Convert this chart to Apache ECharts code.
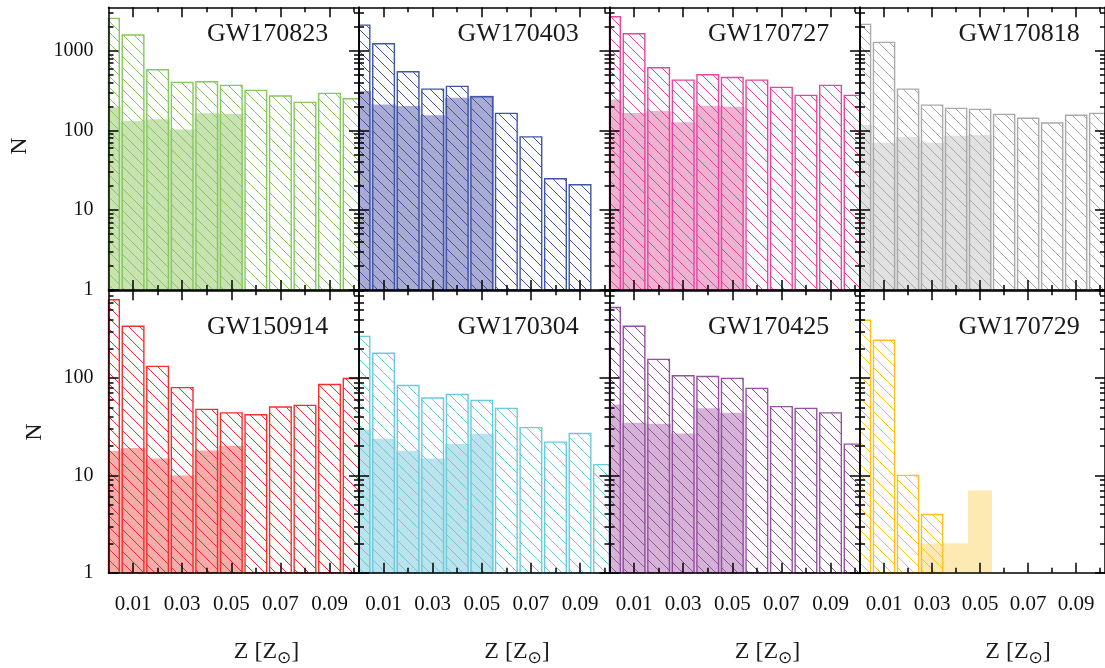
<!DOCTYPE html>
<html><head><meta charset="utf-8">
<script src="https://cdn.jsdelivr.net/npm/echarts@6/dist/echarts.min.js"></script>
<style>html,body{margin:0;padding:0;background:#fff}#c{width:1105px;height:668px}</style>
</head><body><div id="c"></div>
<script>
// ---------- data ----------
const zBins = [0.00, 0.01, 0.02, 0.03, 0.04, 0.05, 0.06, 0.07, 0.08, 0.09, 0.10];

const GW170823_all = [2540, 1570, 576, 401, 408, 367, 318, 270, 225, 292, 250];
const GW170823_sub = [195, 131, 138, 103, 164, 161, null, null, null, null, null];
const GW170403_all = [2090, 1220, 544, 330, 357, 265, 164, 83, 24.8, 20.9, null];
const GW170403_sub = [312, 212, 202, 155, 257, 272, null, null, null, null, null];
const GW170727_all = [2660, 1630, 611, 428, 499, 462, 428, 347, 275, 367, 275];
const GW170727_sub = [245, 165, 175, 127, 204, 198, null, null, null, null, null];
const GW170818_all = [2135, 1270, 330, 208, 189, 184, 159, 142, 124, 155, 164];
const GW170818_sub = [117, 70, 83, 70, 86, 88, null, null, null, null, null];
const GW150914_all = [639, 341, 132, 80, 47.7, 44, 42, 50.5, 52.5, 86, 99];
const GW150914_sub = [17.8, 19.1, 14.9, 10, 18, 20.2, null, null, null, null, null];
const GW170304_all = [269, 180, 84, 62.5, 68, 59, 48.9, 31, 22, 27, 12.9];
const GW170304_sub = [29.7, 23.8, 17.9, 14.9, 21, 26.8, null, null, null, null, null];
const GW170425_all = [532, 341, 156, 106, 104, 99.5, 78.5, 51, 48.9, 44, 21];
const GW170425_sub = [53.7, 34.8, 34, 27, 48.9, 44, null, null, null, null, null];
const GW170729_all = [394, 245, 10, 3.96, null, null, null, null, null, null, null];
const GW170729_sub = [null, null, null, 2, 2, 7, null, null, null, null, null];

const eventNames = ['GW170823', 'GW170403', 'GW170727', 'GW170818',
                    'GW150914', 'GW170304', 'GW170425', 'GW170729'];
const allCounts = [GW170823_all, GW170403_all, GW170727_all, GW170818_all,
                   GW150914_all, GW170304_all, GW170425_all, GW170729_all];
const subCounts = [GW170823_sub, GW170403_sub, GW170727_sub, GW170818_sub,
                   GW150914_sub, GW170304_sub, GW170425_sub, GW170729_sub];

const xLabelTicks = [0.01, 0.03, 0.05, 0.07, 0.09];
const xMinorTicks = [0.02, 0.04, 0.06, 0.08, 0.10];
const yMajorTicks = [1, 10, 100, 1000];
const yMinorTicksTop = [2, 3, 4, 5, 6, 7, 8, 9, 20, 30, 40, 50, 60, 70, 80, 90,
                        200, 300, 400, 500, 600, 700, 800, 900, 2000, 3000];
const yMinorTicksBottom = [2, 3, 4, 5, 6, 7, 8, 9, 20, 30, 40, 50, 60, 70, 80, 90,
                           200, 300, 400, 500, 600, 700, 800];
const yLabelsTop = [1, 10, 100, 1000];
const yLabelsBottom = [1, 10, 100];

// ---------- style ----------
const outlineColors = ['#86c75e', '#3f56a6', '#e3479e', '#a9a9a9',
                       '#f2302e', '#6bcbdc', '#94519f', '#fcc020'];
const fillColors = ['#c8e2b2', '#a9abd3', '#efb3d2', '#e1e1e1',
                    '#f7abab', '#bce3ec', '#d5b3d6', '#fde9b2'];
const SERIF = '"Liberation Serif", "DejaVu Serif", serif';
const colLeft = [108.5, 359, 609.5, 860];
const colW = 250.5;
const rowTop = [7.3, 290.3];
const rowH = [282.7, 282.4];
const yMax = [3500, 800];
const xMin = 0, xMax = 0.102, binW = 0.01;

function hatch(color) {
  const s = 11;
  const c = document.createElement('canvas');
  c.width = s; c.height = s;
  const g = c.getContext('2d');
  g.strokeStyle = color; g.lineWidth = 1;
  g.beginPath();
  g.moveTo(0, 0); g.lineTo(s, s);
  g.moveTo(-3, s - 3); g.lineTo(3, s + 3);
  g.moveTo(s - 3, -3); g.lineTo(s + 3, 3);
  g.stroke();
  return { image: c, repeat: 'repeat' };
}

function makeRender(frac, styleFn) {
  return function (params, api) {
    const x = api.value(0), v = api.value(1);
    const half = binW * frac / 2;
    const tl = api.coord([x - half, v]);
    const br = api.coord([x + half, 1]);
    const cs = params.coordSys;
    const rect = echarts.graphic.clipRectByRect(
      { x: tl[0], y: tl[1], width: br[0] - tl[0], height: br[1] - tl[1] },
      { x: cs.x, y: cs.y, width: cs.width, height: cs.height });
    if (!rect) return null;
    return { type: 'rect', shape: rect, style: styleFn() };
  };
}

const grids = [], xAxes = [], yAxes = [], series = [], graphics = [];
const lineStyle = { color: '#000', width: 1.5 };

for (let p = 0; p < 8; p++) {
  const row = p < 4 ? 0 : 1, col = p % 4;
  grids.push({ left: colLeft[col], top: rowTop[row], width: colW, height: rowH[row], containLabel: false });
  const bottomLabels = row === 1 ? xLabelTicks : null;
  const xdefs = [
    ['bottom', xLabelTicks, 10, true, bottomLabels],
    ['bottom', xMinorTicks, 5, false, null],
    ['top', xLabelTicks, 10, true, null],
    ['top', xMinorTicks, 5, false, null]
  ];
  xdefs.forEach(d => xAxes.push({
    type: 'value', gridIndex: p, position: d[0], min: xMin, max: xMax, z: 5,
    axisLine: { show: d[3], onZero: false, lineStyle },
    axisTick: { show: true, inside: true, length: d[2], customValues: d[1], lineStyle },
    axisLabel: { show: !!d[4], customValues: d[4] || d[1], margin: 21,
                 formatter: v => Number(v).toFixed(2), fontFamily: SERIF, fontSize: 21, color: '#111' },
    splitLine: { show: false }
  }));
  const yLabels = col === 0 ? (row === 0 ? yLabelsTop : yLabelsBottom) : null;
  const yMinor = row === 0 ? yMinorTicksTop : yMinorTicksBottom;
  const ydefs = [
    ['left', yMajorTicks, 10, true, yLabels],
    ['left', yMinor, 5, false, null],
    ['right', yMajorTicks, 10, true, null],
    ['right', yMinor, 5, false, null]
  ];
  ydefs.forEach(d => yAxes.push({
    type: 'log', logBase: 10, gridIndex: p, position: d[0], min: 1, max: yMax[row], z: 5,
    axisLine: { show: d[3], onZero: false, lineStyle },
    axisTick: { show: true, inside: true, length: d[2], customValues: d[1], lineStyle },
    axisLabel: { show: !!d[4], customValues: d[4] || d[1], margin: 15,
                 formatter: v => String(Math.round(v)), fontFamily: SERIF, fontSize: 20, color: '#111' },
    splitLine: { show: false }, minorTick: { show: false }
  }));

  const pat = hatch(outlineColors[p]);
  const fillC = fillColors[p], lineC = outlineColors[p];
  series.push({
    type: 'custom', name: eventNames[p] + ' sub', xAxisIndex: p * 4, yAxisIndex: p * 4, z: 2,
    data: zBins.map((z, i) => [z, subCounts[p][i]]).filter(d => d[1] != null),
    renderItem: makeRender(1.0, () => ({ fill: fillC, stroke: null })),
    silent: true
  });
  series.push({
    type: 'custom', name: eventNames[p], xAxisIndex: p * 4, yAxisIndex: p * 4, z: 3,
    data: zBins.map((z, i) => [z, allCounts[p][i]]).filter(d => d[1] != null),
    renderItem: makeRender(0.88, () => ({ fill: pat, stroke: lineC, lineWidth: 1.4 })),
    silent: true
  });

  graphics.push({
    type: 'text', x: colLeft[col] + 98.5, y: row === 0 ? 34.2 : 327.5, z: 20,
    style: { text: eventNames[p], font: '26px ' + SERIF, fill: '#1a1a1a',
             textAlign: 'left', textVerticalAlign: 'middle' }
  });
  if (row === 1) {
    graphics.push({
      type: 'text', x: colLeft[col] + 158, y: 652, z: 20,
      style: { text: 'Z [Z{s|⊙}]', font: '24px ' + SERIF, fill: '#1a1a1a',
               textAlign: 'center', textVerticalAlign: 'middle',
               rich: { s: { fontSize: 17, fontFamily: '"DejaVu Sans", sans-serif', padding: [13, 0, 0, 0], fill: '#1a1a1a' } } }
    });
  }
}
graphics.push({ type: 'text', x: 20, y: 146, rotation: Math.PI / 2, z: 20,
  style: { text: 'N', font: '24px ' + SERIF, fill: '#1a1a1a', textAlign: 'center', textVerticalAlign: 'middle' } });
graphics.push({ type: 'text', x: 35, y: 432, rotation: Math.PI / 2, z: 20,
  style: { text: 'N', font: '24px ' + SERIF, fill: '#1a1a1a', textAlign: 'center', textVerticalAlign: 'middle' } });

const chart = echarts.init(document.getElementById('c'), null, { renderer: 'canvas' });
chart.setOption({
  animation: false,
  backgroundColor: '#fff',
  grid: grids, xAxis: xAxes, yAxis: yAxes, series: series,
  graphic: { elements: graphics }
});
</script></body></html>
